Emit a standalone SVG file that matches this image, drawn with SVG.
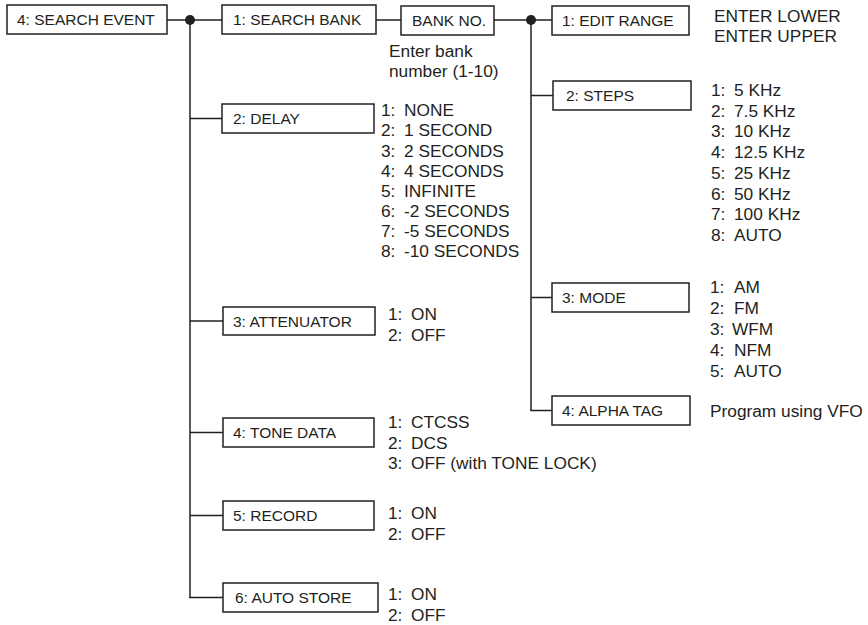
<svg xmlns="http://www.w3.org/2000/svg" width="868" height="625" viewBox="0 0 868 625">
<style>
.box rect{fill:#fff;stroke:#231f20;stroke-width:1.5}
.box text{font-family:"Liberation Sans",Arial,sans-serif;font-size:15.5px;fill:#231f20}
.lst{font-family:"Liberation Sans",Arial,sans-serif;font-size:17.3px;fill:#231f20}
#connectors line{stroke:#231f20;stroke-width:1.5}
#connectors circle{fill:#231f20}
</style>
<rect width="868" height="625" fill="#fff"/>
<g id="connectors">
<line x1="167" y1="20" x2="222" y2="20"/>
<circle cx="190" cy="20" r="5"/>
<line x1="190" y1="20" x2="190" y2="598"/>
<line x1="190" y1="118.5" x2="222" y2="118.5"/>
<line x1="190" y1="321" x2="223" y2="321"/>
<line x1="190" y1="432.5" x2="223" y2="432.5"/>
<line x1="190" y1="515.5" x2="223" y2="515.5"/>
<line x1="189.25" y1="597.5" x2="223" y2="597.5"/>
<line x1="376" y1="20" x2="401" y2="20"/>
<line x1="494" y1="20" x2="552" y2="20"/>
<circle cx="531" cy="20" r="5"/>
<line x1="531" y1="20" x2="531" y2="410.5"/>
<line x1="531" y1="95.5" x2="553" y2="95.5"/>
<line x1="531" y1="297.5" x2="552" y2="297.5"/>
<line x1="530.25" y1="410.5" x2="552" y2="410.5"/>
</g>
<g id="n-search-event" class="box"><rect x="7" y="5" width="160" height="29"/><text x="17" y="25">4: SEARCH EVENT</text></g>
<g id="n-search-bank" class="box"><rect x="222" y="5" width="154" height="29"/><text x="233" y="25">1: SEARCH BANK</text></g>
<g id="n-bank-no" class="box"><rect x="401" y="6" width="93" height="29"/><text x="412" y="26">BANK NO.</text></g>
<g id="n-edit-range" class="box"><rect x="552" y="6" width="137" height="29"/><text x="562" y="26">1: EDIT RANGE</text></g>
<g id="n-steps" class="box"><rect x="553" y="81" width="138" height="29"/><text x="566" y="101">2: STEPS</text></g>
<g id="n-mode" class="box"><rect x="552" y="283" width="137" height="29"/><text x="562" y="303">3: MODE</text></g>
<g id="n-alpha-tag" class="box"><rect x="552" y="396" width="138" height="29"/><text x="562" y="416">4: ALPHA TAG</text></g>
<g id="n-delay" class="box"><rect x="222" y="104" width="152" height="29"/><text x="233" y="124">2: DELAY</text></g>
<g id="n-attenuator" class="box"><rect x="223" y="307" width="152" height="28"/><text x="233" y="326.5">3: ATTENUATOR</text></g>
<g id="n-tone-data" class="box"><rect x="223" y="418" width="151" height="29"/><text x="233" y="438">4: TONE DATA</text></g>
<g id="n-record" class="box"><rect x="223" y="501" width="151" height="29"/><text x="233" y="521">5: RECORD</text></g>
<g id="n-auto-store" class="box"><rect x="223" y="583" width="155" height="29"/><text x="235" y="603">6: AUTO STORE</text></g>

<g id="t-edit-range" class="lst">
<text x="714" y="22">ENTER LOWER</text>
<text x="714" y="42">ENTER UPPER</text>
</g>
<g id="t-bank" class="lst">
<text x="389" y="57">Enter bank</text>
<text x="389" y="77">number (1-10)</text>
</g>
<g id="t-delay" class="lst">
<text x="381" y="116">1:</text><text x="404" y="116">NONE</text>
<text x="381" y="136">2:</text><text x="404" y="136">1 SECOND</text>
<text x="381" y="156.5">3:</text><text x="404" y="156.5">2 SECONDS</text>
<text x="381" y="177">4:</text><text x="404" y="177">4 SECONDS</text>
<text x="381" y="197">5:</text><text x="404" y="197">INFINITE</text>
<text x="381" y="217">6:</text><text x="404" y="217">-2 SECONDS</text>
<text x="381" y="237">7:</text><text x="404" y="237">-5 SECONDS</text>
<text x="381" y="257">8:</text><text x="404" y="257">-10 SECONDS</text>
</g>
<g id="t-steps" class="lst">
<text x="711" y="96">1:</text><text x="734" y="96">5 KHz</text>
<text x="711" y="116.7">2:</text><text x="734" y="116.7">7.5 KHz</text>
<text x="711" y="137.4">3:</text><text x="734" y="137.4">10 KHz</text>
<text x="711" y="158.1">4:</text><text x="734" y="158.1">12.5 KHz</text>
<text x="711" y="178.8">5:</text><text x="734" y="178.8">25 KHz</text>
<text x="711" y="199.5">6:</text><text x="734" y="199.5">50 KHz</text>
<text x="711" y="220.2">7:</text><text x="734" y="220.2">100 KHz</text>
<text x="711" y="240.9">8:</text><text x="734" y="240.9">AUTO</text>
</g>
<g id="t-mode" class="lst">
<text x="710" y="293">1:</text><text x="734" y="293">AM</text>
<text x="710" y="314">2:</text><text x="734" y="314">FM</text>
<text x="710" y="335">3:</text><text x="732" y="335">WFM</text>
<text x="710" y="356">4:</text><text x="734" y="356">NFM</text>
<text x="710" y="377">5:</text><text x="734" y="377">AUTO</text>
</g>
<g id="t-alpha" class="lst"><text x="710" y="417">Program using VFO</text></g>
<g id="t-attenuator" class="lst">
<text x="388" y="320">1:</text><text x="411" y="320">ON</text>
<text x="388" y="341">2:</text><text x="411" y="341">OFF</text>
</g>
<g id="t-tone" class="lst">
<text x="388" y="428">1:</text><text x="411" y="428">CTCSS</text>
<text x="388" y="449">2:</text><text x="411" y="449">DCS</text>
<text x="388" y="469">3:</text><text x="411" y="469">OFF (with TONE LOCK)</text>
</g>
<g id="t-record" class="lst">
<text x="388" y="519">1:</text><text x="411" y="519">ON</text>
<text x="388" y="540">2:</text><text x="411" y="540">OFF</text>
</g>
<g id="t-auto-store" class="lst">
<text x="388" y="600">1:</text><text x="411" y="600">ON</text>
<text x="388" y="621">2:</text><text x="411" y="621">OFF</text>
</g>
</svg>
